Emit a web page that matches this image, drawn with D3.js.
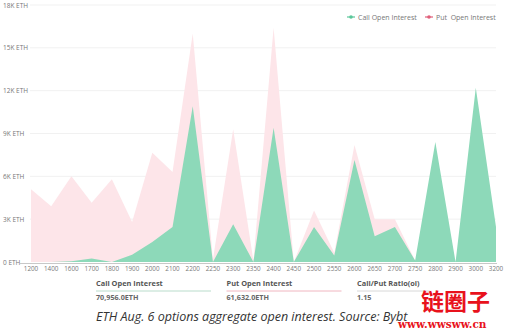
<!DOCTYPE html>
<html>
<head>
<meta charset="utf-8">
<script src="https://cdn.jsdelivr.net/npm/d3@7"></script>
<style>
    body { margin: 0; background: #fff; }
    svg { display: block; font-family: "Open Sans", "Noto Sans", sans-serif; }
</style>
</head>
<body>
<svg id="chart" width="509" height="332"></svg>
<script>
// strikes on the x axis
const strikes = ["1200", "1400", "1600", "1700", "1800", "1900", "2000", "2100", "2200", "2250", "2300", "2350",
    "2400", "2450", "2500", "2550", "2600", "2650", "2700", "2750", "2800", "2900", "3000", "3200"];

// open interest per strike, ETH
const callOI = [0, 0, 50, 250, 0, 500, 1400, 2450, 10900, 0, 2650, 0,
    9400, 0, 2450, 450, 7150, 1800, 2450, 100, 8400, 0, 12200, 2450];
const putOI = [5100, 3900, 6000, 4150, 5800, 2800, 7650, 6300, 16000, 200, 9300, 100,
    16400, 0, 3600, 650, 8200, 3000, 3000, 100, 1500, 0, 2000, 500];

const yTicks = [0, 3000, 6000, 9000, 12000, 15000, 18000];

const summary = [
    {label: "Call Open Interest", value: "70,956.0ETH", line: "#b9dccb"},
    {label: "Put Open Interest", value: "61,632.0ETH", line: "#f0b6c0"},
    {label: "Call/Put Ratio(oi)", value: "1.15", line: "#d8d8d8"}
];

const svg = d3.select("#chart");

const x = d3.scalePoint().domain(strikes).range([31, 496]);
const y = d3.scaleLinear().domain([0, 18000]).range([262, 5]);

// grid + y labels
const grid = svg.append("g");
grid.selectAll("line")
    .data(yTicks.slice(1))
    .join("line")
    .attr("x1", 30).attr("x2", 496)
    .attr("y1", d => y(d)).attr("y2", d => y(d))
    .attr("stroke", "#f1f1f1");

grid.selectAll("text")
    .data(yTicks)
    .join("text")
    .attr("x", 3)
    .attr("y", d => y(d) + 2.5)
    .attr("font-size", 6.5)
    .attr("fill", "#777")
    .text(d => d === 0 ? "0 ETH" : (d / 1000) + "K ETH");

const area = vals => d3.area()
    .x((d, i) => x(strikes[i]))
    .y0(y(0))
    .y1(d => y(d))(vals);

svg.append("path").attr("d", area(putOI)).attr("fill", "#fde5e9");
svg.append("path").attr("d", area(callOI)).attr("fill", "#8dd9b9");

// baseline
svg.append("line")
    .attr("x1", 20).attr("x2", 497)
    .attr("y1", 263.5).attr("y2", 263.5)
    .attr("stroke", "#c8c8c8");

svg.append("g").selectAll("text")
    .data(strikes)
    .join("text")
    .attr("x", d => x(d))
    .attr("y", 271)
    .attr("text-anchor", "middle")
    .attr("font-size", 6.3)
    .attr("fill", "#777")
    .text(d => d);

// legend
const legend = [
    {name: "Call Open Interest", color: "#5cc79a", x: 347},
    {name: "Put  Open Interest", color: "#e0607a", x: 425}
];
const lg = svg.append("g").selectAll("g").data(legend).join("g")
    .attr("transform", d => `translate(${d.x},17)`);
lg.append("line").attr("x1", 0).attr("x2", 8).attr("stroke", d => d.color).attr("stroke-width", 1.2);
lg.append("circle").attr("cx", 4).attr("r", 1.8).attr("fill", d => d.color);
lg.append("text").attr("x", 11).attr("y", 2.5)
    .attr("font-size", 7).attr("fill", "#777")
    .style("white-space", "pre")
    .text(d => d.name);

// summary table
const sx = d3.scalePoint().domain(summary.map(d => d.label)).range([96, 357]);
const sg = svg.append("g").selectAll("g").data(summary).join("g")
    .attr("transform", d => `translate(${sx(d.label)},0)`);
sg.append("text").attr("y", 286).attr("font-size", 7.4).attr("font-weight", "bold")
    .attr("fill", "#555").text(d => d.label);
sg.append("line").attr("x1", 0).attr("x2", (d, i) => i === 2 ? 73 : 115)
    .attr("y1", 291).attr("y2", 291).attr("stroke", d => d.line);
sg.append("text").attr("y", 299.5).attr("font-size", 7.2).attr("font-weight", "bold")
    .attr("fill", "#666").text(d => d.value);

// caption
svg.append("text")
    .attr("x", 96).attr("y", 321)
    .attr("font-size", 12.5).attr("font-style", "italic")
    .attr("fill", "#333")
    .text("ETH Aug. 6 options aggregate open interest. Source: Bybt");

// site watermark
svg.append("text")
    .attr("x", 421).attr("y", 310)
    .attr("font-size", 23).attr("font-weight", "bold")
    .attr("font-family", "Noto Sans CJK SC")
    .attr("fill", "#e8121c")
    .text("链圈子");
svg.append("text")
    .attr("x", 398).attr("y", 328)
    .attr("font-size", 10.5).attr("font-weight", "bold")
    .attr("font-family", "DejaVu Serif")
    .attr("fill", "#e8121c")
    .text("www.wwsww.cn");
</script>
</body>
</html>
